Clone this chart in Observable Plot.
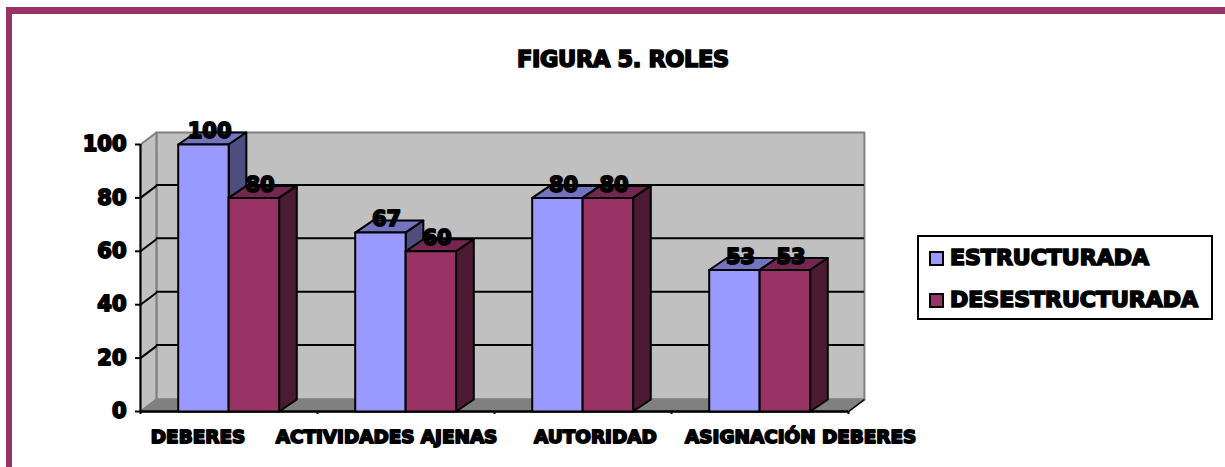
<!DOCTYPE html>
<html>
<head>
<meta charset="utf-8">
<script src="https://cdn.jsdelivr.net/npm/d3@7"></script>
<script src="https://cdn.jsdelivr.net/npm/@observablehq/plot@0.6"></script>
<style>
html,body{margin:0;padding:0;background:#fff;overflow:hidden}
#wrap{position:relative;width:1225px;height:467px;font-family:"DejaVu Sans",sans-serif;font-weight:700;color:#000}
#frame{position:absolute;left:6px;top:7px;right:0;bottom:0;border-top:7px solid #993366;border-left:6px solid #993366}
#title{position:absolute;left:517px;top:45px;font-size:22.4px;line-height:28px;white-space:nowrap;-webkit-text-stroke:1.7px #000;letter-spacing:-.3px}
#legend{position:absolute;left:917px;top:235px;width:292px;height:81px;border:2px solid #000;background:#fff}
.row{position:absolute;left:10px;display:flex;align-items:center;font-size:22px;line-height:28px;white-space:nowrap;-webkit-text-stroke:1.7px #000}
.sw{width:11px;height:11px;border:2px solid #000;margin-right:6px;flex:none}
svg text{stroke:#000;stroke-width:1.8px;stroke-linejoin:round}
svg{position:absolute;left:0;top:0}
</style>
</head>
<body>
<div id="wrap">
  <div id="frame"></div>
  <div id="title"></div>
  <div id="legend"></div>
</div>
<script>
const chartTitle = "FIGURA 5. ROLES";
const categories = ["DEBERES", "ACTIVIDADES AJENAS", "AUTORIDAD", "ASIGNACIÓN DEBERES"];
const seriesNames = ["ESTRUCTURADA", "DESESTRUCTURADA"];
const estructurada = [100, 67, 80, 53];
const desestructurada = [80, 60, 80, 53];
const yTicks = [0, 20, 40, 60, 80, 100];

// appearance
const front = ["#9999FF", "#993366"];
const top3d = ["#7373BF", "#732650"];
const side = ["#4D4D80", "#4D1A33"];
const wallDX = 0.09, wallDY = 4.5;    // wall depth, in scale units
const barDX = 0.1, barDY = 4.5;       // bar depth, in scale units
const gap = 0.213, barW = 0.285;      // within one category band
const labelShift = [-0.175, -0.11, 0.07, 0.23]; // axis labels are not centred on the bands

const faces = [];
function poly(fill, stroke, pts) {
  const id = faces.length ? faces[faces.length - 1].id + 1 : 0;
  [...pts, pts[0]].forEach(([x, y]) => faces.push({id, x, y, fill, stroke}));
}
const n = categories.length;
// walls
poly("#C0C0C0", "#808080", [[wallDX, wallDY], [n + wallDX, wallDY], [n + wallDX, 100 + wallDY], [wallDX, 100 + wallDY]]);
poly("#C0C0C0", "#808080", [[0, 0], [wallDX, wallDY], [wallDX, 100 + wallDY], [0, 100]]);
poly("#808080", "#808080", [[0, 0], [n, 0], [n + wallDX, wallDY], [wallDX, wallDY]]);

const wallFaces = faces.slice();
faces.length = 0;

// bars
const labels = [];
categories.forEach((c, i) => {
  [estructurada[i], desestructurada[i]].forEach((v, s) => {
    const x0 = i + gap + s * barW, x1 = x0 + barW;
    poly(top3d[s], "#000", [[x0, v], [x1, v], [x1 + barDX, v + barDY], [x0 + barDX, v + barDY]]);
    poly(side[s], "#000", [[x1, 0], [x1 + barDX, barDY], [x1 + barDX, v + barDY], [x1, v]]);
    poly(front[s], "#000", [[x0, 0], [x1, 0], [x1, v], [x0, v]]);
    labels.push({x: (x0 + x1) / 2 + barDX * 0.35, y: v + barDY, v});
  });
});

const font = {fontFamily: "DejaVu Sans", fontWeight: 700};

const plot = Plot.plot({
  width: 1225,
  height: 467,
  marginLeft: 140,
  marginRight: 377,
  marginTop: 144,
  marginBottom: 56,
  style: {background: "transparent", overflow: "visible"},
  x: {domain: [0, n], axis: null},
  y: {domain: [0, 100], axis: null},
  marks: [
    Plot.line(wallFaces, {x: "x", y: "y", z: "id", fill: "fill", stroke: "stroke", strokeWidth: 2, curve: "linear"}),
    // gridlines on back and side walls
    Plot.ruleY(yTicks.filter(v => v > 0 && v < 100), {y: v => v + wallDY, x1: wallDX, x2: n + wallDX, stroke: "#000", strokeWidth: 2, dy: -1}),
    Plot.link(yTicks.filter(v => v > 0 && v < 100), {x1: 0, y1: v => v, x2: wallDX, y2: v => v + wallDY, stroke: "#000", strokeWidth: 2}),
    Plot.link([0], {x1: n, y1: 0, x2: n + wallDX, y2: wallDY, stroke: "#000", strokeWidth: 1.5}),
    // front axis lines
    Plot.ruleX([0], {y1: 0, y2: 100, stroke: "#000", strokeWidth: 2}),
    Plot.ruleY([0], {x1: 0, x2: n, stroke: "#000", strokeWidth: 2.5}),
    Plot.axisY({ticks: yTicks, tickSize: 5, tickPadding: 9, strokeWidth: 2, stroke: "#000", fontSize: 21, label: null, ...font}),
    Plot.axisX({ticks: d3.range(n + 1), tickFormat: () => "", tickSize: 3, strokeWidth: 2, stroke: "#000", label: null}),
    // bars
    Plot.line(faces, {x: "x", y: "y", z: "id", fill: "fill", stroke: "#000", strokeWidth: 2, curve: "linear"}),
    // data labels
    Plot.text(labels, {x: "x", y: "y", dy: -1, text: "v", fontSize: 21, fill: "#000", ...font}),
    // category labels
    Plot.text(categories, {x: (d, i) => i + 0.5 + labelShift[i], frameAnchor: "bottom", dy: 26, lineAnchor: "middle", text: d => d, fontSize: 18.4, fill: "#000", ...font})
  ]
});
const wrap = document.getElementById("wrap");
wrap.appendChild(plot);
wrap.appendChild(document.getElementById("title"));
wrap.appendChild(document.getElementById("legend"));
document.getElementById("title").textContent = chartTitle;
seriesNames.forEach((s, i) => {
  const r = document.createElement("div");
  r.className = "row";
  r.style.top = (7 + i * 42) + "px";
  r.innerHTML = `<span class="sw" style="background:${front[i]}"></span><span>${s}</span>`;
  document.getElementById("legend").appendChild(r);
});
</script>
</body>
</html>
